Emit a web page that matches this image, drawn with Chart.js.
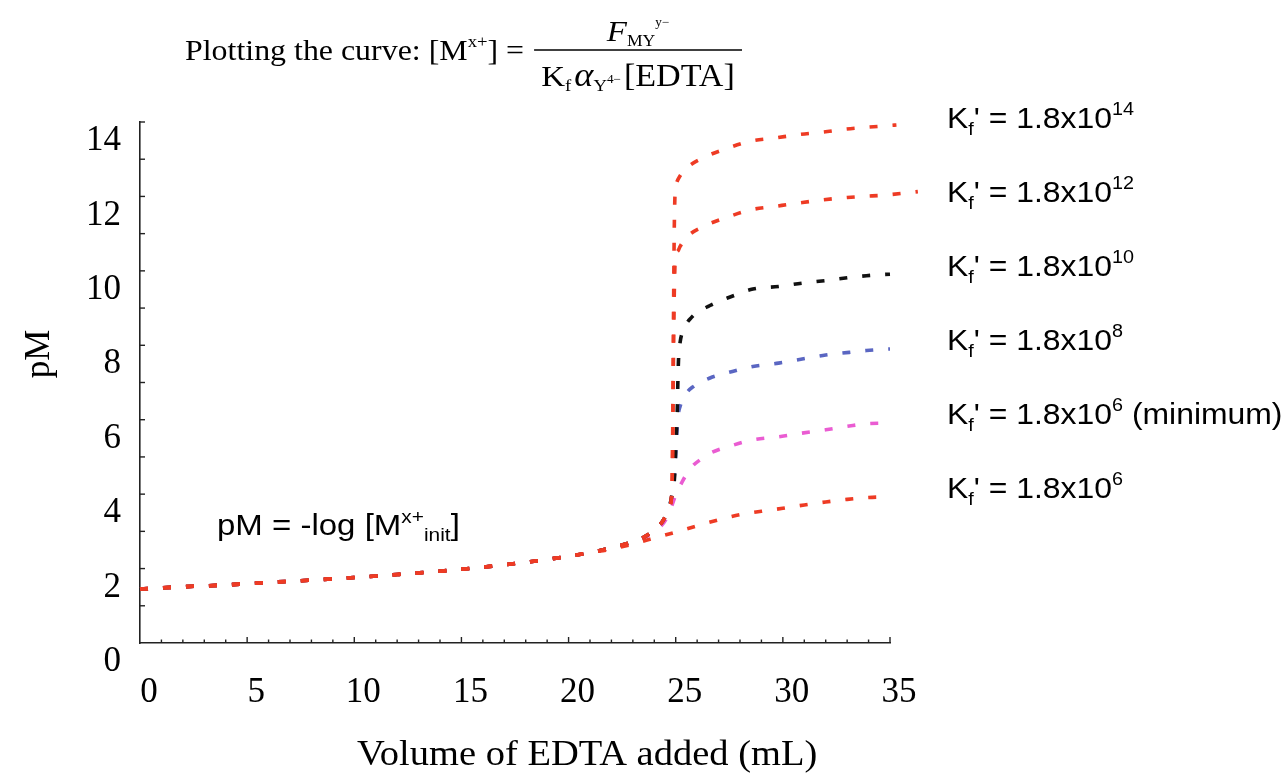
<!DOCTYPE html>
<html>
<head>
<meta charset="utf-8">
<title>EDTA titration curves</title>
<script src="https://cdn.jsdelivr.net/npm/chart.js@4.4.1/dist/chart.umd.min.js"></script>
<style>
  html, body { margin: 0; padding: 0; background: #fff; }
  #wrap { width: 1285px; height: 774px; }
</style>
</head>
<body>
<div id="wrap"><canvas id="chart" width="1285" height="774"></canvas></div>
<script>
// Общая часть кривой до точки эквивалентности (все кривые)
const commonVol = [0, 2, 4, 6, 8, 10, 12, 14, 16, 18, 20, 21];
const commonPM  = [1.45, 1.51, 1.56, 1.63, 1.69, 1.76, 1.84, 1.93, 2.04, 2.17, 2.33, 2.43];

// Крутые кривые перед скачком
const steepVol = [22, 23, 23.5, 24, 24.3, 24.5, 24.7, 24.8];
const steepPM  = [2.56, 2.72, 2.84, 3.03, 3.20, 3.38, 3.65, 3.90];

// Хвосты кривых после точки эквивалентности
const kf14Vol = [24.84, 24.87, 24.9, 24.93, 24.97, 25.04, 25.2, 25.5, 26.4, 27.45, 28.46, 29.63, 30.72, 31.89, 32.97, 33.75, 34.84, 35.3];
const kf14PM  = [4.5, 6.5, 9.0, 11.0, 12.09, 12.36, 12.55, 12.76, 13.07, 13.30, 13.48, 13.57, 13.66, 13.73, 13.81, 13.85, 13.90, 13.92];

const kf12Vol = [24.84, 24.87, 24.9, 24.94, 24.98, 25.12, 25.2, 25.5, 26.4, 27.4, 28.5, 29.6, 30.7, 31.9, 33.0, 33.75, 34.85, 36.3];
const kf12PM  = [4.5, 6.0, 8.0, 9.6, 10.3, 10.55, 10.65, 10.9, 11.22, 11.44, 11.64, 11.73, 11.82, 11.91, 11.97, 12.0, 12.04, 12.13];

const kf10Vol = [24.95, 25.02, 25.07, 25.1, 25.13, 25.2, 25.35, 25.74, 26.6, 27.6, 28.6, 29.8, 30.9, 32.0, 33.1, 33.9, 35, 36.4];
const kf10PM  = [4.5, 5.5, 6.2, 7.0, 7.6, 8.06, 8.4, 8.75, 9.07, 9.31, 9.51, 9.58, 9.67, 9.74, 9.82, 9.87, 9.91, 9.92];

const kf8Vol = [24.95, 25.05, 25.1, 25.2, 25.5, 25.82, 26.6, 27.6, 28.6, 29.8, 30.9, 32.0, 33.1, 33.9, 35, 36.4];
const kf8PM  = [4.6, 5.6, 6.05, 6.35, 6.71, 6.89, 7.12, 7.29, 7.43, 7.52, 7.63, 7.74, 7.81, 7.86, 7.90, 7.91];

const kfMinVol = [22, 23, 23.5, 24, 24.4, 24.7, 24.97, 25.3, 25.7, 26.2, 26.6, 27.7, 28.6, 29.9, 30.9, 32.0, 33.1, 33.9, 35, 36.4];
const kfMinPM  = [2.55, 2.70, 2.82, 3.0, 3.2, 3.5, 3.93, 4.33, 4.70, 4.95, 5.10, 5.32, 5.46, 5.55, 5.64, 5.73, 5.83, 5.89, 5.91, 5.93];

const kf6Vol = [22, 23, 24, 25, 26, 27, 28, 29, 30, 31, 32, 33, 34, 35, 36.4];
const kf6PM  = [2.52, 2.66, 2.82, 2.98, 3.15, 3.31, 3.45, 3.54, 3.62, 3.71, 3.79, 3.86, 3.91, 3.93, 3.95];

// Подписи кривых справа
const curveLabels = [
    { exp: '14', note: '' },
    { exp: '12', note: '' },
    { exp: '10', note: '' },
    { exp: '8', note: '' },
    { exp: '6', note: ' (minimum)' },
    { exp: '6', note: '' }
];
const labelBaselines = [128, 202, 276, 350, 424, 498];

const RED = '#ee3b24';
const BLACK = '#111111';
const BLUE = '#5a66c2';
const PINK = '#ea5cd2';
const SERIF = '"Liberation Serif", "Times New Roman", serif';
const SANS = '"Liberation Sans", Arial, sans-serif';
const STRETCH = 1.1;

function toPoints(vols, vals) {
    return vols.map((v, i) => ({ x: v, y: vals[i] }));
}

function series(label, color, ...parts) {
    let data = [];
    parts.forEach(p => { data = data.concat(toPoints(p[0], p[1])); });
    return {
        label: label,
        data: data,
        borderColor: color,
        borderWidth: 3.6,
        borderDash: [8, 15],
        pointRadius: 0,
        fill: false,
        clip: false,
        cubicInterpolationMode: 'monotone'
    };
}

// Текст с горизонтальным растяжением, как в оригинале
function drawRun(ctx, parts, x, y) {
    let cx = x;
    parts.forEach(p => {
        ctx.save();
        ctx.font = (p.style || '') + ' ' + p.size + 'px ' + (p.family || SERIF);
        ctx.fillStyle = '#000';
        ctx.textAlign = 'left';
        ctx.textBaseline = 'alphabetic';
        const w = ctx.measureText(p.t).width * STRETCH;
        ctx.translate(cx, y + (p.dy || 0));
        ctx.scale(STRETCH, 1);
        ctx.fillText(p.t, 0, 0);
        ctx.restore();
        cx += w + (p.gap || 0);
    });
    return cx;
}

function runWidth(ctx, parts) {
    let w = 0;
    parts.forEach(p => {
        ctx.font = (p.style || '') + ' ' + p.size + 'px ' + (p.family || SERIF);
        w += ctx.measureText(p.t).width * STRETCH + (p.gap || 0);
    });
    return w;
}

const decorations = {
    id: 'decorations',
    afterDraw(chart) {
        const ctx = chart.ctx;
        const xs = chart.scales.x;
        const ys = chart.scales.y;
        const area = chart.chartArea;

        // Засечки осей
        ctx.save();
        ctx.strokeStyle = '#222';
        ctx.lineWidth = 1.4;
        for (let v = 1; v <= 35; v++) {
            const px = xs.getPixelForValue(v);
            const len = v % 5 === 0 ? 6 : 3.5;
            ctx.beginPath();
            ctx.moveTo(px, area.bottom);
            ctx.lineTo(px, area.bottom - len);
            ctx.stroke();
        }
        for (let v = 1; v <= 14; v++) {
            const py = ys.getPixelForValue(v);
            ctx.beginPath();
            ctx.moveTo(area.left, py);
            ctx.lineTo(area.left + 5, py);
            ctx.stroke();
        }
        ctx.restore();

        // Подписи осей
        ctx.save();
        ctx.font = '35px ' + SERIF;
        ctx.fillStyle = '#000';
        ctx.textAlign = 'center';
        ctx.textBaseline = 'middle';
        ctx.translate(40, 354);
        ctx.rotate(-Math.PI / 2);
        ctx.fillText('pM', 0, 0);
        ctx.restore();
        drawRun(ctx, [{ t: 'Volume of EDTA added (mL)', size: 35 }], 357, 765);

        // Формула сверху
        let x = drawRun(ctx, [
            { t: 'Plotting the curve: ', size: 29 },
            { t: '[M', size: 29 },
            { t: 'x+', size: 17, dy: -13 },
            { t: ']', size: 29 },
            { t: ' = ', size: 29 }
        ], 185, 60);
        const barL = x + 2;
        const barR = 742;
        ctx.save();
        ctx.strokeStyle = '#000';
        ctx.lineWidth = 1.3;
        ctx.beginPath();
        ctx.moveTo(barL, 50);
        ctx.lineTo(barR, 50);
        ctx.stroke();
        ctx.restore();

        const num = [
            { t: 'F', size: 30, style: 'italic' },
            { t: 'MY', size: 16, dy: 5 },
            { t: 'y\u2212', size: 12, dy: -15 }
        ];
        drawRun(ctx, num, (barL + barR) / 2 - runWidth(ctx, num) / 2, 41);

        const den = [
            { t: 'K', size: 30 },
            { t: 'f', size: 17, dy: 5, gap: 3 },
            { t: '\u03b1', size: 33, style: 'italic' },
            { t: 'Y', size: 17, dy: 5 },
            { t: '4\u2212', size: 12, dy: -3, gap: 3 },
            { t: '[EDTA]', size: 31 }
        ];
        drawRun(ctx, den, (barL + barR) / 2 - runWidth(ctx, den) / 2, 86);

        // Подписи кривых
        curveLabels.forEach((lab, i) => {
            const parts = [
                { t: 'K', size: 29, family: SANS },
                { t: 'f', size: 18, family: SANS, dy: 7 },
                { t: '\' = 1.8x10', size: 29, family: SANS },
                { t: lab.exp, size: 18, family: SANS, dy: -13 }
            ];
            if (lab.note) parts.push({ t: lab.note, size: 29, family: SANS });
            drawRun(ctx, parts, 947, labelBaselines[i]);
        });

        // pM = -log [M x+ init]
        drawRun(ctx, [
            { t: 'pM = -log [M', size: 30, family: SANS },
            { t: 'x+', size: 19, family: SANS, dy: -12 },
            { t: 'init', size: 19, family: SANS, dy: 6 },
            { t: ']', size: 30, family: SANS }
        ], 217, 535);
    }
};

const datasets = [
    series('Kf\' = 1.8x10^6', RED, [commonVol, commonPM], [kf6Vol, kf6PM]),
    series('Kf\' = 1.8x10^14', RED, [commonVol, commonPM], [steepVol, steepPM], [kf14Vol, kf14PM]),
    series('Kf\' = 1.8x10^12', RED, [commonVol, commonPM], [steepVol, steepPM], [kf12Vol, kf12PM]),
    series('Kf\' = 1.8x10^10', BLACK, [commonVol, commonPM], [steepVol, steepPM], [kf10Vol, kf10PM]),
    series('Kf\' = 1.8x10^8', BLUE, [commonVol, commonPM], [steepVol, steepPM], [kf8Vol, kf8PM]),
    series('Kf\' = 1.8x10^6 (minimum)', PINK, [commonVol, commonPM], [kfMinVol, kfMinPM])
];

new Chart(document.getElementById('chart'), {
    type: 'line',
    data: { datasets: datasets },
    options: {
        responsive: false,
        animation: false,
        devicePixelRatio: 1,
        layout: { padding: { left: 0, top: 122, right: 395, bottom: 0 } },
        plugins: {
            legend: { display: false },
            tooltip: { enabled: false }
        },
        scales: {
            x: {
                type: 'linear',
                min: 0,
                max: 35,
                grid: { display: false },
                border: { color: '#222', width: 1.6 },
                ticks: {
                    stepSize: 5,
                    color: '#000',
                    padding: 21,
                    labelOffset: 9,
                    maxRotation: 0,
                    font: { family: SERIF, size: 35 }
                },
                afterFit: s => { s.height = 131; }
            },
            y: {
                type: 'linear',
                min: 0,
                max: 14,
                grid: { display: false },
                border: { color: '#222', width: 1.6 },
                ticks: {
                    stepSize: 2,
                    color: '#000',
                    padding: 11,
                    labelOffset: 19,
                    font: { family: SERIF, size: 35 }
                },
                afterFit: s => { s.width = 140; }
            }
        }
    },
    plugins: [decorations]
});
</script>
</body>
</html>
